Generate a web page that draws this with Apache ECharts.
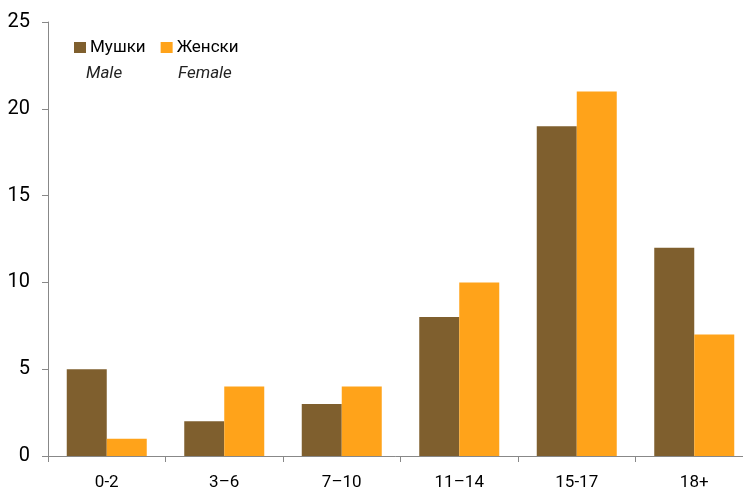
<!DOCTYPE html>
<html><head><meta charset="utf-8">
<script src="https://cdn.jsdelivr.net/npm/echarts@6/dist/echarts.min.js"></script>
<style>html,body{margin:0;padding:0;background:#fff}#c{width:743px;height:492px}</style>
</head><body><div id="c"></div>
<script>
var categories = ['0-2', '3–6', '7–10', '11–14', '15-17', '18+'];
var male = [5, 2, 3, 8, 19, 12];
var female = [1, 4, 4, 10, 21, 7];
var seriesNames = ['Мушки', 'Женски'];
var subLabels = ['Male', 'Female'];
var yTicks = [0, 5, 10, 15, 20, 25];

var font = '"Liberation Sans Narrow", Roboto, sans-serif';
var chart = echarts.init(document.getElementById('c'));
chart.setOption({
  animation: false,
  textStyle: {fontFamily: font},
  grid: {left: 48, top: 22, width: 705, height: 434, outerBoundsMode: 'none', containLabel: false},
  legend: {
    left: 74, top: 39, itemWidth: 12, itemHeight: 11, itemGap: 15,
    icon: 'rect', padding: 0,
    textStyle: {fontSize: 17, color: '#000', fontFamily: font, padding: [0, 0, 0, -1]},
    data: seriesNames
  },
  graphic: [
    {type: 'text', left: 86, top: 65, style: {text: subLabels[0], font: 'italic 17px ' + font, fill: '#222'}},
    {type: 'text', left: 178, top: 65, style: {text: subLabels[1], font: 'italic 17px ' + font, fill: '#222'}}
  ],
  xAxis: {
    type: 'category', data: categories,
    axisLine: {lineStyle: {color: '#888'}},
    axisTick: {show: true, length: 6, lineStyle: {color: '#888'}},
    axisLabel: {fontSize: 17, color: '#000', margin: 18, fontFamily: font}
  },
  yAxis: {
    type: 'value', min: yTicks[0], max: yTicks[yTicks.length - 1], interval: 5,
    splitLine: {show: false},
    axisLine: {show: true, lineStyle: {color: '#888'}},
    axisTick: {show: true, length: 6, lineStyle: {color: '#888'}},
    axisLabel: {fontSize: 20, color: '#000', margin: 18, fontFamily: font}
  },
  series: [
    {name: seriesNames[0], type: 'bar', data: male, barWidth: 40, barGap: '0%', itemStyle: {color: '#7F5F2E'}},
    {name: seriesNames[1], type: 'bar', data: female, barWidth: 40, barGap: '0%', itemStyle: {color: '#FFA31A'}}
  ]
});
</script></body></html>
